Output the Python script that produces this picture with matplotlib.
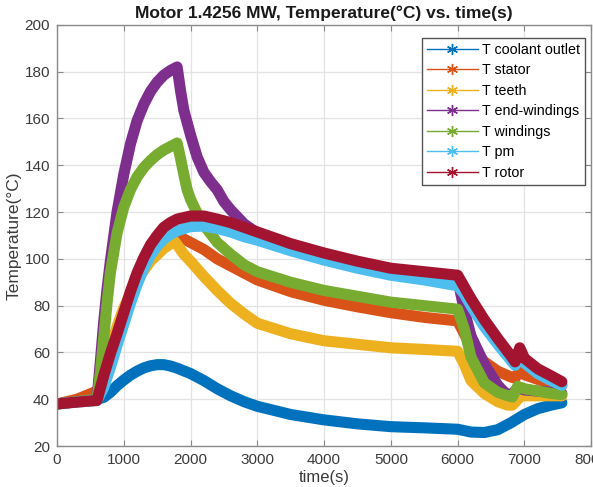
import matplotlib
matplotlib.use("Agg")
import matplotlib.pyplot as plt
from matplotlib.lines import Line2D

plt.rcParams['font.family'] = ['Liberation Sans', 'DejaVu Sans']

# ---- data ----
t_coolant = [0, 300, 600, 700, 800, 900, 1000, 1100, 1200, 1300, 1400, 1500, 1600, 1700, 1800,
             2000, 2200, 2400, 2600, 2800, 3000, 3500, 4000, 4500, 5000, 5500, 6000, 6200,
             6400, 6600, 6800, 7000, 7200, 7400, 7560]
T_coolant = [38, 39, 40, 40.8, 43, 45.8, 48.2, 50.3, 52, 53.4, 54.3, 54.8, 54.8, 54.2, 53.3,
             51, 48, 44.5, 41.5, 39, 37, 33.5, 31.2, 29.5, 28.3, 27.8, 27.2, 26,
             25.8, 27, 30, 33.5, 36, 37.5, 38.5]

t_stator = [0, 300, 600, 650, 700, 800, 900, 1000, 1200, 1400, 1600, 1800, 1850, 1900, 2000,
            2200, 2400, 2600, 2800, 3000, 3500, 4000, 4500, 5000, 5500, 6000, 6100, 6200,
            6400, 6600, 6800, 6860, 6920, 7000, 7200, 7400, 7560]
T_stator = [38, 40, 43.5, 47, 52, 61, 70, 78, 91, 100, 106, 109.5, 109.5, 108.5, 107,
            104, 100, 97, 94, 91, 86, 82.3, 79.5, 77, 75, 73.5, 68, 62.5,
            56, 52, 49.5, 49, 52, 50.5, 48.5, 47, 46]

t_teeth = [0, 300, 600, 650, 700, 800, 900, 1000, 1200, 1400, 1600, 1760, 1800, 1900, 2000,
           2200, 2400, 2600, 2800, 3000, 3500, 4000, 4500, 5000, 5500, 6000, 6100, 6200,
           6400, 6600, 6750, 6820, 6950, 7000, 7200, 7400, 7560]
T_teeth = [38, 39, 40, 46, 52, 62, 71, 79, 91, 99, 104.5, 107.5, 106, 102, 99,
           92.5, 86.5, 81, 76.5, 72.5, 68, 65, 63.5, 62, 61.3, 60.5, 55, 48,
           42.5, 39, 37.5, 37.5, 41.5, 41.5, 41.5, 41.5, 41.5]

t_endw = [0, 300, 600, 650, 700, 750, 800, 900, 1000, 1100, 1200, 1300, 1400, 1500, 1600,
          1700, 1800, 1850, 1900, 2000, 2100, 2200, 2300, 2400, 2500, 2600, 2800, 3000,
          3500, 4000, 4500, 5000, 5500, 6000, 6100, 6200, 6400, 6600, 6700, 6800, 6900,
          7000, 7200, 7400, 7560]
T_endw = [38, 39, 40, 56, 73, 87, 99, 120, 136, 149, 159, 166, 171.5, 175.5, 178.5,
          180.5, 182, 172, 163.5, 153, 143.5, 137, 133, 129.5, 124.5, 121, 115, 111,
          105, 100.5, 97, 94.5, 93, 91.5, 78, 67, 55, 46, 43, 41.5, 45,
          44, 43.5, 43, 42.5]

t_wind = [0, 300, 600, 650, 700, 750, 800, 900, 1000, 1100, 1200, 1300, 1400, 1500, 1600,
          1700, 1800, 1850, 1900, 1950, 2000, 2100, 2200, 2400, 2600, 2800, 3000, 3500,
          4000, 4500, 5000, 5500, 6000, 6100, 6200, 6400, 6600, 6750, 6820, 6900, 7000,
          7200, 7400, 7560]
T_wind = [38, 39, 40, 51, 66, 81, 94, 111, 122, 129.5, 135, 139, 142, 144.5, 146.5,
          148, 149.5, 143, 136, 129.5, 125.5, 119.5, 114.5, 107, 102, 97.5, 94.5, 90,
          86.5, 84, 81.5, 80, 78.5, 70, 58, 47, 43, 41.5, 41, 45.5, 44.5,
          43.5, 42.5, 42]

t_pm = [0, 300, 600, 700, 800, 900, 1000, 1100, 1200, 1300, 1400, 1500, 1600, 1700, 1800,
        2000, 2200, 2400, 2600, 2800, 3000, 3500, 4000, 4500, 5000, 5500, 6000, 6100,
        6200, 6400, 6600, 6800, 6860, 6930, 7000, 7200, 7400, 7560]
T_pm = [38, 38.8, 39.5, 45, 53.5, 63, 72, 81, 89, 96, 101.5, 105.5, 108.5, 110.5, 112,
        113.8, 114, 113, 111.5, 109.5, 108, 103.5, 99.5, 96, 93, 91, 88.5, 85,
        80, 71, 63.5, 56.5, 54.5, 59.5, 55.5, 51, 48, 46]

t_rotor = [0, 300, 600, 700, 800, 900, 1000, 1100, 1200, 1300, 1400, 1500, 1600, 1700, 1800,
           2000, 2200, 2400, 2600, 2800, 3000, 3500, 4000, 4500, 5000, 5500, 6000, 6100,
           6200, 6400, 6600, 6800, 6860, 6930, 7000, 7200, 7400, 7560]
T_rotor = [38, 38.8, 39.5, 50, 59.5, 68, 77, 86, 94, 100.5, 106, 110, 113.5, 115.5, 117,
           118.3, 118.3, 117, 115.5, 113.5, 111.5, 106.5, 102.5, 99, 96, 94.5, 93, 88,
           83, 74, 66, 58.5, 56, 62, 57.5, 53, 50, 47.5]

series_names = ['T coolant outlet', 'T stator', 'T teeth', 'T end-windings',
                'T windings', 'T pm', 'T rotor']
series_t = [t_coolant, t_stator, t_teeth, t_endw, t_wind, t_pm, t_rotor]
series_T = [T_coolant, T_stator, T_teeth, T_endw, T_wind, T_pm, T_rotor]
colors = ['#0072BD', '#D95319', '#EDB120', '#7E2F8E', '#77AC30', '#4DBEEE', '#A2142F']

x_ticks = [0, 1000, 2000, 3000, 4000, 5000, 6000, 7000, 8000]
y_ticks = [20, 40, 60, 80, 100, 120, 140, 160, 180, 200]

# ---- figure ----
fig = plt.figure(figsize=(5.93, 4.87), dpi=100)
ax = fig.add_axes([0.096, 0.084, 0.901, 0.865])

for tt, TT, c in zip(series_t, series_T, colors):
    ax.plot(tt, TT, color=c, lw=8, solid_capstyle='round', solid_joinstyle='round')

ax.set_xlim(0, 8000)
ax.set_ylim(20, 200)
ax.set_xticks(x_ticks)
ax.set_yticks(y_ticks)
ax.grid(True, color='#e3e3e3', lw=0.9)
ax.set_axisbelow(True)
for s in ax.spines.values():
    s.set_color('#8a8a8a')
    s.set_linewidth(1.0)
ax.tick_params(direction='in', top=True, right=True, length=4, width=0.8,
               color='#8a8a8a', labelsize=11, labelcolor='#3c3c3c', pad=5)

ax.set_title('Motor 1.4256 MW, Temperature(°C) vs. time(s)', fontsize=12.5,
             fontweight='bold', color='#1a1a1a', pad=5)
ax.set_xlabel('time(s)', fontsize=12, color='#3c3c3c', labelpad=2)
ax.set_ylabel('Temperature(°C)', fontsize=12.5, color='#3c3c3c', labelpad=2)

handles = [Line2D([], [], color=c, lw=1.0, marker=(6, 2, 0), markersize=8,
                  markeredgewidth=1.0) for c in colors]
leg = ax.legend(handles, series_names, loc='upper right', bbox_to_anchor=(0.989, 0.969),
                fontsize=10.3, frameon=True, fancybox=False, edgecolor='#555555',
                framealpha=1, handlelength=3.6, borderpad=0.35, labelspacing=0.45,
                handletextpad=0.3, borderaxespad=0)
leg.get_frame().set_linewidth(1.0)

fig.savefig('out.png', dpi=100)
